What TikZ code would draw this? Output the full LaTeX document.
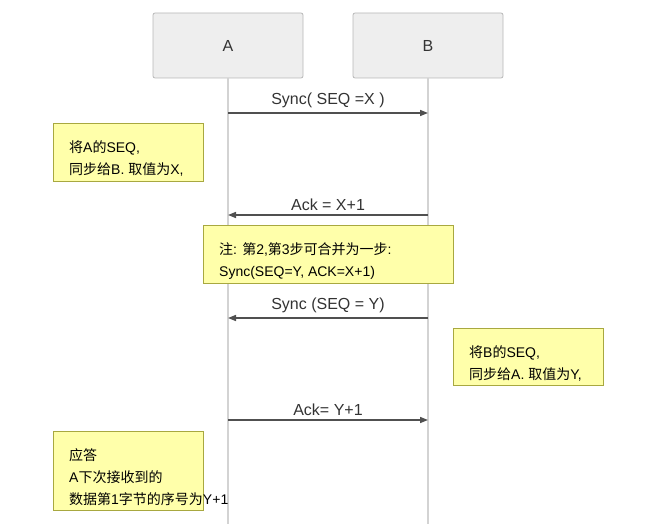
\documentclass[tikz,border=0pt]{standalone}
\usepackage{fontspec}
\setmainfont{Liberation Sans}
\newfontfamily\cjk{Noto Sans CJK SC}
\usepackage{tikz}
\usetikzlibrary{arrows.meta, positioning, calc}
\definecolor{ActorFill}{HTML}{EEEEEE}
\definecolor{ActorLine}{HTML}{B8B8B8}
\definecolor{LifeGray}{HTML}{D3D3D3}
\definecolor{NoteFill}{HTML}{FFFFAA}
\definecolor{NoteLine}{HTML}{A8A840}
\definecolor{MsgGray}{HTML}{505050}
\definecolor{TextDark}{HTML}{333333}
\newcommand{\zh}[1]{{\cjk #1}}
\tikzset{
  actorbox/.style={rectangle, rounded corners=2pt, draw=ActorLine, fill=ActorFill, line width=0.8pt, minimum width=150pt, minimum height=65pt, font=\fontsize{16}{19}\selectfont, text=TextDark},
  lifeline/.style={draw=LifeGray, line width=1.6pt},
  notebox/.style={rectangle, draw=NoteLine, fill=NoteFill, line width=0.8pt, anchor=north west},
  notetext/.style={anchor=north west, inner sep=0pt, align=left, font=\fontsize{14}{22}\selectfont, text=black},
  msgarrow/.style={-{Triangle[length=8pt,width=6pt]}, draw=MsgGray, line width=1.5pt},
  msglabel/.style={font=\fontsize{16}{19}\selectfont, text=TextDark, inner sep=0pt, above=4pt}
}

\begin{document}
\begin{tikzpicture}[x=1pt, y=-1pt]
  \useasboundingbox (0,0) rectangle (655,524);

  % Actors
  \node[actorbox] (A) at (228,45.5) {A};
  \node[actorbox] (B) at (428,45.5) {B};

  % Lifelines
  \coordinate (Aend) at (228,524);
  \coordinate (Bend) at (428,524);
  \draw[lifeline] (A.south) -- (Aend);
  \draw[lifeline] (B.south) -- (Bend);

  % Messages
  \coordinate (a1) at (228,113);   \coordinate (b1) at (428,113);
  \coordinate (a2) at (228,215);   \coordinate (b2) at (428,215);
  \coordinate (a3) at (228,318);   \coordinate (b3) at (428,318);
  \coordinate (a4) at (228,420);   \coordinate (b4) at (428,420);

  \draw[msgarrow] (a1) -- node[msglabel] (m1) {Sync( SEQ =X )} (b1);
  \draw[msgarrow] (b2) -- node[msglabel] (m2) {Ack = X+1} (a2);
  \draw[msgarrow] (b3) -- node[msglabel] (m3) {Sync (SEQ = Y)} (a3);
  \draw[msgarrow] (a4) -- node[msglabel] (m4) {Ack= Y+1} (b4);

  % Notes
  \node[notebox, minimum width=150pt, minimum height=58pt] (n1) at (53,123) {};
  \node[notetext] (t1) at ($(n1.north west)+(16,17)$)
    {\zh{将}A\zh{的}SEQ,\\\zh{同步给}B. \zh{取值为}X,};

  \node[notebox, minimum width=250pt, minimum height=58pt] (n2) at (203,225) {};
  \node[notetext] (t2) at ($(n2.north west)+(16,17)$)
    {\zh{注}: \zh{第}2,\zh{第}3\zh{步可合并为一步}:\\Sync(SEQ=Y, ACK=X+1)};

  \node[notebox, minimum width=150pt, minimum height=57pt] (n3) at (453,328) {};
  \node[notetext] (t3) at ($(n3.north west)+(16,17)$)
    {\zh{将}B\zh{的}SEQ,\\\zh{同步给}A. \zh{取值为}Y,};

  \node[notebox, minimum width=150pt, minimum height=79pt] (n4) at (53,431) {};
  \node[notetext] (t4) at ($(n4.north west)+(16,17)$)
    {\zh{应答}\\A\zh{下次接收到的}\\\zh{数据第}1\zh{字节的序号为}Y+1};
\end{tikzpicture}
\end{document}
